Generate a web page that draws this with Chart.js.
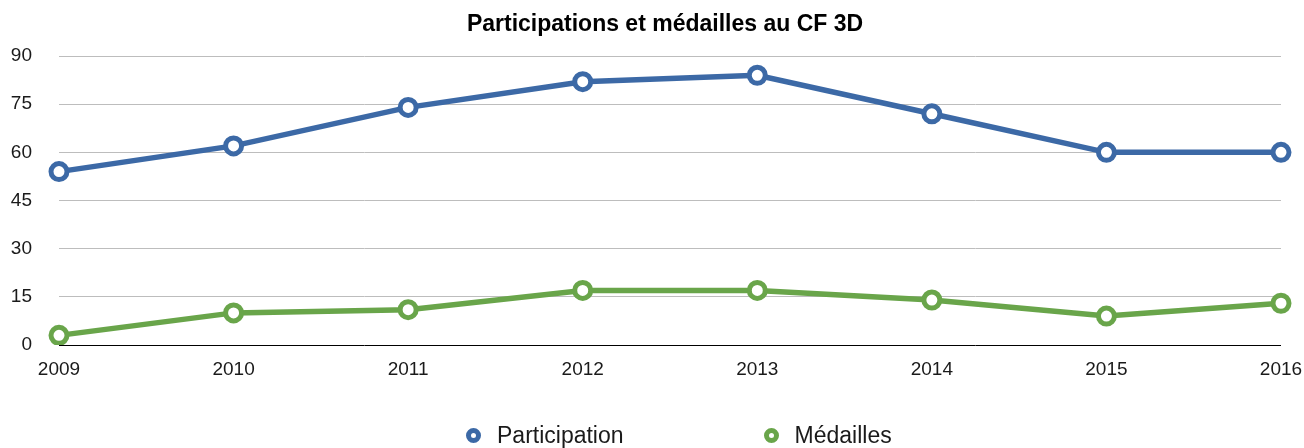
<!DOCTYPE html>
<html>
<head>
<meta charset="utf-8">
<script src="https://cdn.jsdelivr.net/npm/chart.js@4.4.0/dist/chart.umd.min.js"></script>
<style>
    html, body { margin: 0; padding: 0; background: #fff; overflow: hidden; }
    #wrap { position: relative; width: 1304px; height: 448px; }
    #legend {
        position: absolute; left: 466px; top: 424px;
        display: flex; align-items: center;
        font-family: "Liberation Sans", Arial, sans-serif; font-size: 23px; line-height: 22px; color: #1a1a1a;
    }
    .legend-item { display: flex; align-items: center; margin-right: 140px; }
    .legend-mark {
        display: inline-block; width: 5px; height: 5px; border-radius: 50%;
        border: 5.5px solid; background: #fff; margin-right: 16px;
    }
</style>
</head>
<body>
<div id="wrap">
    <canvas id="cfChart" width="1304" height="448"></canvas>
    <div id="legend"></div>
</div>
<script>
// Participations et médailles au CF 3D

const years = ['2009', '2010', '2011', '2012', '2013', '2014', '2015', '2016'];
const participation = [54, 62, 74, 82, 84, 72, 60, 60];
const medailles = [3, 10, 11, 17, 17, 14, 9, 13];
const yTicks = [0, 15, 30, 45, 60, 75, 90];

const blue = '#3c69a6';
const green = '#69a54a';
const fontFamily = '"Liberation Sans", Arial, sans-serif';

function lineDataset(label, data, color) {
    return {
        label: label,
        data: data,
        borderColor: color,
        backgroundColor: color,
        borderWidth: 5.5,
        pointRadius: 8,
        pointHoverRadius: 8,
        pointBorderWidth: 5,
        pointBackgroundColor: '#fff',
        pointBorderColor: color,
        tension: 0
    };
}

const ctx = document.getElementById('cfChart').getContext('2d');

const cfChart = new Chart(ctx, {
    type: 'line',
    data: {
        labels: years,
        datasets: [
            lineDataset('Participation', participation, blue),
            lineDataset('Médailles', medailles, green)
        ]
    },
    options: {
        responsive: false,
        animation: false,
        layout: {
            // negative right padding only recentres the title over the plot
            padding: { left: 11, right: -15, top: 0, bottom: 67 }
        },
        plugins: {
            legend: { display: false },
            tooltip: { enabled: false },
            title: {
                display: true,
                text: 'Participations et médailles au CF 3D',
                color: '#000',
                font: { family: fontFamily, size: 23, weight: 'bold' },
                padding: { top: 11, bottom: 17.4 }
            }
        },
        scales: {
            x: {
                offset: false,
                grid: { display: false, drawTicks: false },
                border: { display: false },
                afterFit: (axis) => {
                    axis.height = 36;
                    axis.paddingRight = 23;
                },
                ticks: {
                    color: '#1a1a1a',
                    font: { family: fontFamily, size: 19 },
                    padding: 13,
                    maxRotation: 0,
                    autoSkip: false
                }
            },
            y: {
                min: 0,
                max: 90,
                afterBuildTicks: (axis) => {
                    axis.ticks = yTicks.map(v => ({ value: v }));
                },
                afterFit: (axis) => { axis.width = 48; },
                grid: {
                    drawTicks: false,
                    lineWidth: 1,
                    color: (c) => c.tick && c.tick.value === 0 ? '#000' : '#bdbdbd'
                },
                border: { display: false },
                ticks: {
                    color: '#1a1a1a',
                    font: { family: fontFamily, size: 19 },
                    padding: 27
                }
            }
        }
    }
});

// HTML legend built from the datasets
const legendDiv = document.getElementById('legend');
legendDiv.innerHTML = cfChart.data.datasets.map(ds => `
    <span class="legend-item">
        <span class="legend-mark" style="border-color:${ds.borderColor}"></span>
        <span>${ds.label}</span>
    </span>
`).join('');
</script>
</body>
</html>
